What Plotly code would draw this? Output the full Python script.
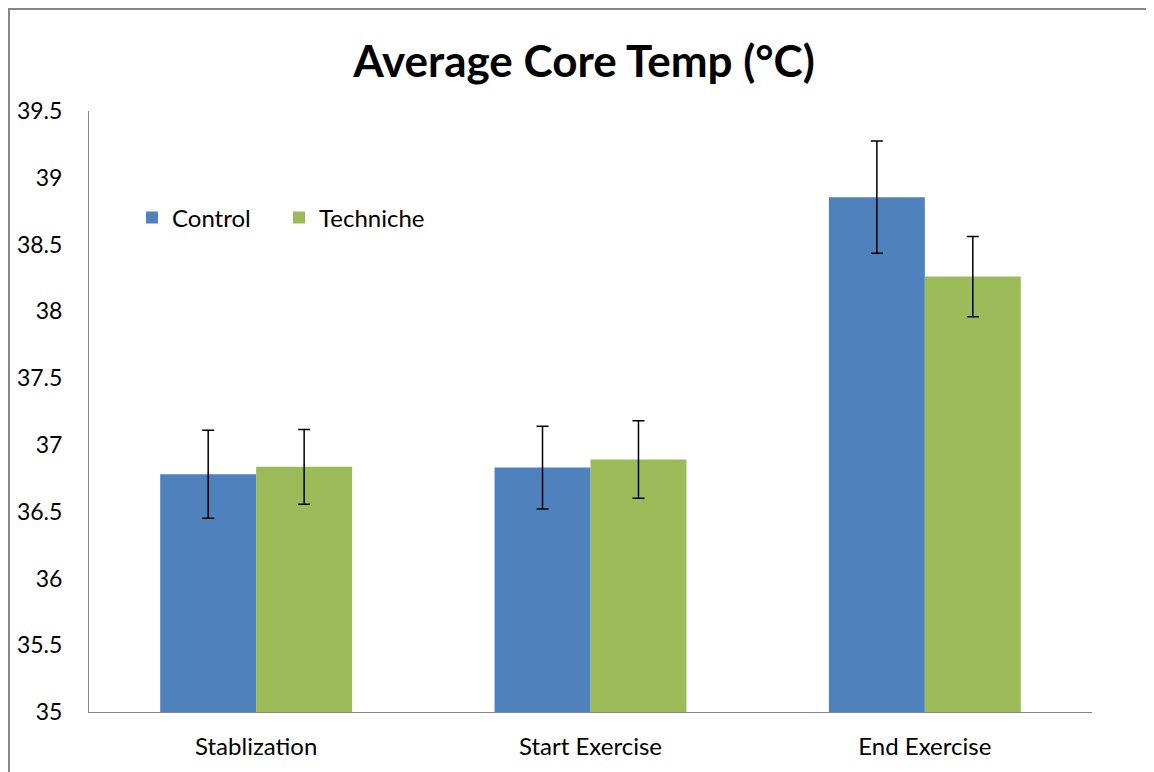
import plotly.graph_objects as go

categories = ["Stablization", "Start Exercise", "End Exercise"]
control = [36.78, 36.83, 38.855]
control_err = [0.33, 0.31, 0.42]
techniche = [36.836, 36.89, 38.26]
techniche_err = [0.28, 0.29, 0.30]
yticks = [35, 35.5, 36, 36.5, 37, 37.5, 38, 38.5, 39, 39.5]

FONT = "Lato"

fig = go.Figure()
fig.add_trace(go.Bar(
    name="Control", x=categories, y=control,
    marker=dict(color="#4F81BD", line=dict(width=0)),
    error_y=dict(type="data", array=control_err, color="black", thickness=1.5, width=6),
))
fig.add_trace(go.Bar(
    name="Techniche", x=categories, y=techniche,
    marker=dict(color="#9BBB59", line=dict(width=0)),
    error_y=dict(type="data", array=techniche_err, color="black", thickness=1.5, width=6),
))

# page is rendered with an 8px body margin, so figure coords = page coords - 8
OFF = 8
W, H = 1154 - OFF, 772 - OFF
L, R, T, B = 89 - OFF, 62, 111 - OFF, 60
pw, ph = W - L - R, H - T - B

def px(xpage):
    return (xpage - OFF - L) / pw

def py(ypage):
    return (712 - ypage) / ph

fig.update_layout(
    width=W, height=H,
    margin=dict(l=L, r=R, t=T, b=B, autoexpand=False),
    paper_bgcolor="white", plot_bgcolor="white",
    barmode="group", bargap=0.426, bargroupgap=0,
    title=dict(text="<b>Average Core Temp (°C)</b>", x=(584 - OFF) / W, xanchor="center",
               y=1 - (62 - OFF) / H, yanchor="middle",
               font=dict(family=FONT, size=44, color="black")),
    font=dict(family=FONT, color="black"),
    showlegend=True,
    legend=dict(orientation="h", x=px(132), y=py(218),
                xanchor="left", yanchor="middle",
                font=dict(family=FONT, size=24, color="black"),
                bgcolor="rgba(0,0,0,0)", itemwidth=30, traceorder="normal",
                entrywidth=102, entrywidthmode="pixels"),
    xaxis=dict(showline=True, linecolor="#868686", linewidth=1, showgrid=False,
               ticks="", tickfont=dict(family=FONT, size=24, color="black"),
               ticklabelstandoff=13, automargin=False),
    yaxis=dict(range=[35, 39.5], tickvals=yticks, ticktext=[f"{v:g}" for v in yticks],
               showline=True, linecolor="#868686", linewidth=1, showgrid=False,
               ticks="", tickfont=dict(family=FONT, size=23, color="black"),
               ticklabelstandoff=21, zeroline=False, automargin=False),
)

# outer chart frame
fig.add_shape(type="rect", xref="paper", yref="paper",
              x0=px(9), x1=px(1147),
              y0=py(800), y1=py(9),
              line=dict(color="#878787", width=2), fillcolor="rgba(0,0,0,0)", layer="below")

fig.write_html("out.html")
